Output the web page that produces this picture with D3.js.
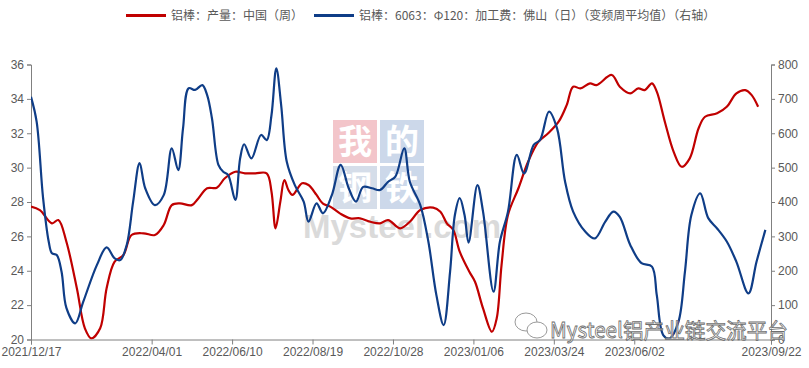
<!DOCTYPE html>
<html>
<head>
<meta charset="utf-8">
<title>铝棒产量与加工费</title>
<script type="text/javascript" src="https://cdnjs.cloudflare.com/ajax/libs/d3/7.8.5/d3.min.js"></script>
<style>
  body { margin: 0; background: #fff; }
  svg { display: block; }
</style>
</head>
<body>
<script type="text/javascript">

// data (x = week index from 2021/12/17)
var xTickIndex = [0, 15, 25, 35, 45, 55, 65, 75, 92]
var xTickLabels = ["2021/12/17", "2022/04/01", "2022/06/10", "2022/08/19", "2022/10/28",
                   "2023/01/06", "2023/03/24", "2023/06/02", "2023/09/22"]
var leftTicks = [20, 22, 24, 26, 28, 30, 32, 34, 36]
var rightTicks = [0, 100, 200, 300, 400, 500, 600, 700, 800]

var seriesNames = ["铝棒：产量：中国（周）",
                   "铝棒：6063：Φ120：加工费：佛山（日）（变频周平均值）（右轴）"]

// red: output, left axis
var redWeeks = [0, 1.1, 2.6, 3.4, 4.4, 5.7, 6.7, 7.5, 8.6, 9.4, 10.4, 11.5, 12.5, 14, 15.4, 16.5,
    17.5, 18.5, 20, 20.8, 21.9, 23.1, 24.1, 25.4, 26.6, 27.9, 29.3, 29.9, 30.4, 31, 31.5, 32,
    32.5, 33.7, 34.5, 35.5, 36.3, 37.2, 38.4, 39.7, 40.9, 42.2, 43.4, 44.4, 45.9, 47.1, 48.4,
    50, 50.9, 51.7, 52.5, 53.3, 54.5, 55.2, 56.2, 57.3, 57.9, 58.5, 59.3, 60.6, 61.8, 63.1,
    64.3, 65.6, 66.6, 67.4, 68.3, 69.5, 70.3, 72.2, 73.2, 74.5, 75.5, 76.3, 77.2, 77.8, 78.8,
    79.9, 80.9, 81.9, 83, 83.8, 85.3, 86.5, 87.7, 88.8, 89.6, 90.4]
var redValues = [27.73, 27.53, 26.76, 26.95, 25.69, 22.98, 20.65, 20.07, 20.65, 22.98, 24.53,
    24.92, 26.08, 26.18, 26.08, 26.66, 27.82, 27.92, 27.82, 28.21, 28.8, 28.83, 29.38, 29.76,
    29.67, 29.67, 29.67, 28.6, 26.47, 28.02, 29.28, 28.7, 28.41, 29.09, 28.99, 28.41, 27.9,
    27.73, 27.34, 27.05, 27.05, 26.85, 26.76, 26.95, 26.47, 26.85, 27.53, 27.67, 27.43, 26.76,
    26.37, 25.11, 23.94, 23.36, 21.81, 20.45, 21.23, 24.33, 27.24, 28.8, 30.34, 31.51, 32.0,
    32.67, 33.64, 34.71, 34.61, 34.9, 34.8, 35.39, 34.71, 34.32, 34.61, 34.51, 34.9, 34.42,
    32.67, 30.92, 30.05, 30.54, 32.29, 32.96, 33.16, 33.54, 34.32, 34.51, 34.22, 33.54]

// blue: processing fee, right axis
var blueWeeks = [0, 0.7, 1.5, 2.2, 2.6, 3.2, 3.8, 4.4, 5.5, 6.5, 8.2, 9.4, 10.4, 11.1, 11.9, 12.7,
    13.5, 14.2, 15.4, 16.5, 17.5, 18.3, 18.9, 19.6, 20.4, 21.3, 21.9, 22.5, 23.3, 23.9, 24.5,
    25.4, 26, 26.5, 27.4, 28.6, 29.3, 29.9, 30.5, 31.1, 31.8, 32.8, 33.9, 34.5, 35.5, 36.3,
    37.4, 38.5, 39.5, 40.4, 41.3, 42.4, 43.4, 44.4, 45.3, 46.4, 47.1, 48.4, 49.4, 50.4, 51.3,
    52.1, 52.7, 53.3, 53.9, 54.4, 55.5, 56.2, 57.5, 58.3, 59.3, 60.4, 61.3, 62.5, 63.3, 64.4,
    65.4, 66.4, 67.4, 68.9, 70.1, 71.4, 72.4, 73.2, 74.5, 75.9, 77.2, 77.8, 78.6, 79.4, 80.5,
    81.3, 82.1, 83.2, 84.2, 85.3, 86.5, 87.7, 89.2, 90.2, 91.3]
var blueValues = [706, 634, 412, 285, 251, 246, 197, 92, 47, 110, 217, 268, 236, 231, 275, 401,
    513, 440, 391, 420, 556, 493, 614, 731, 726, 740, 711, 643, 508, 488, 479, 406, 527, 568,
    527, 595, 580, 653, 789, 682, 517, 449, 401, 343, 396, 367, 420, 508, 440, 401, 444, 440,
    435, 459, 474, 556, 459, 391, 285, 129, 42, 197, 362, 411, 362, 282, 449, 372, 139, 285,
    372, 537, 483, 566, 581, 663, 614, 459, 372, 314, 294, 343, 372, 357, 275, 222, 212, 129,
    13, 3, 52, 197, 362, 425, 353, 323, 285, 226, 134, 226, 319]

var w = 809,
    h = 368

var margin = {top: 64.5, right: 38, bottom: 28.5, left: 31}

var red = "#c00000",
    blue = "#0f3d87",
    axisColor = "#808080",
    textColor = "#595959"

var svg = d3.select("body").append("svg")
    .attr("width", w)
    .attr("height", h)

// scales
var x = d3.scaleLinear()
    .domain([0, 92])
    .range([margin.left, w - margin.right])

var yLeft = d3.scaleLinear()
    .domain([20, 36])
    .range([h - margin.bottom, margin.top])

var yRight = d3.scaleLinear()
    .domain([0, 800])
    .range([h - margin.bottom, margin.top])

// watermark behind the lines
var logo = svg.append("g").attr("class", "watermark")
var logoCells = [
    {ch: "我", col: 0, row: 0, fill: "#f3c5ca"},
    {ch: "的", col: 1, row: 0, fill: "#ccd8ea"},
    {ch: "钢", col: 0, row: 1, fill: "#d5dde9"},
    {ch: "铁", col: 1, row: 1, fill: "#ccd8ea"}
]
logo.selectAll("rect")
    .data(logoCells)
    .enter()
    .append("rect")
    .attr("x", function(d){ return 333 + d.col * 47 })
    .attr("y", function(d){ return 120 + d.row * 46 })
    .attr("width", 44)
    .attr("height", 43)
    .style("fill", function(d){ return d.fill })
logo.selectAll("text")
    .data(logoCells)
    .enter()
    .append("text")
    .attr("x", function(d){ return 355 + d.col * 47 })
    .attr("y", function(d){ return 154 + d.row * 46 })
    .attr("text-anchor", "middle")
    .style("font-family", "'Noto Sans CJK SC'")
    .style("font-size", "34px")
    .style("font-weight", "bold")
    .style("fill", "#ffffff")
    .text(function(d){ return d.ch })

logo.append("text")
    .attr("x", 303)
    .attr("y", 238)
    .style("font-family", "'Liberation Sans', Arial, sans-serif")
    .style("font-size", "33px")
    .style("font-weight", "bold")
    .style("fill", "#d4d4d4")
    .style("opacity", 0.85)
    .text("Mysteel.com")

// axes
function styleAxis(g) {
    g.selectAll("path, line").style("stroke", axisColor)
    g.selectAll("text")
        .style("fill", textColor)
        .style("font-family", "'Liberation Sans', Arial, sans-serif")
        .style("font-size", "12px")
}

svg.append("g")
    .attr("transform", "translate(" + margin.left + ",0)")
    .call(d3.axisLeft(yLeft).tickValues(leftTicks).tickSizeOuter(0).tickSize(4).tickPadding(3))
    .call(styleAxis)

svg.append("g")
    .attr("transform", "translate(" + (w - margin.right) + ",0)")
    .call(d3.axisRight(yRight).tickValues(rightTicks).tickSizeOuter(0).tickSize(4).tickPadding(3))
    .call(styleAxis)

svg.append("g")
    .attr("transform", "translate(0," + (h - margin.bottom) + ")")
    .call(d3.axisBottom(x)
        .tickValues(xTickIndex)
        .tickFormat(function(d, i){ return xTickLabels[i] })
        .tickSizeOuter(0)
        .tickSize(5)
        .tickPadding(3))
    .call(styleAxis)

// clip lines to the plot area
svg.append("clipPath")
    .attr("id", "plot-clip")
    .append("rect")
    .attr("x", margin.left)
    .attr("y", margin.top - 4)
    .attr("width", w - margin.left - margin.right)
    .attr("height", h - margin.top - margin.bottom + 4)

var redLine = d3.line()
    .x(function(d, i){ return x(redWeeks[i]) })
    .y(function(d){ return yLeft(d) })
    .curve(d3.curveCatmullRom.alpha(0.5))

var blueLine = d3.line()
    .x(function(d, i){ return x(blueWeeks[i]) })
    .y(function(d){ return yRight(d) })
    .curve(d3.curveCatmullRom.alpha(0.5))

svg.append("path")
    .datum(redValues)
    .attr("clip-path", "url(#plot-clip)")
    .attr("d", redLine)
    .style("fill", "none")
    .style("stroke", red)
    .style("stroke-width", 2.2)

svg.append("path")
    .datum(blueValues)
    .attr("clip-path", "url(#plot-clip)")
    .attr("d", blueLine)
    .style("fill", "none")
    .style("stroke", blue)
    .style("stroke-width", 2.2)

// legend
var legendItems = [
    {name: seriesNames[0], color: red, x: 126},
    {name: seriesNames[1], color: blue, x: 314}
]
var legend = svg.selectAll(".legend")
    .data(legendItems)
    .enter()
    .append("g")
    .attr("class", "legend")
    .attr("transform", function(d){ return "translate(" + d.x + ",15.5)" })
legend.append("line")
    .attr("x1", 0)
    .attr("x2", 40)
    .style("stroke", function(d){ return d.color })
    .style("stroke-width", 3)
legend.append("text")
    .attr("x", 45)
    .attr("dy", "0.35em")
    .style("font-family", "'Noto Sans CJK SC', sans-serif")
    .style("font-size", "12px")
    .style("fill", textColor)
    .text(function(d){ return d.name })

// wechat mark bottom right
var mark = svg.append("g").attr("class", "wechat-mark")
mark.append("ellipse")
    .attr("cx", 526).attr("cy", 322).attr("rx", 11).attr("ry", 9)
    .style("fill", "#fff").style("stroke", "#9a9a9a").style("stroke-width", 1)
mark.append("ellipse")
    .attr("cx", 537).attr("cy", 330).attr("rx", 10).attr("ry", 8)
    .style("fill", "#fff").style("stroke", "#9a9a9a").style("stroke-width", 1)
mark.append("text")
    .attr("x", 550)
    .attr("y", 338)
    .attr("textLength", 238)
    .attr("lengthAdjust", "spacingAndGlyphs")
    .style("font-family", "'Noto Sans CJK SC', sans-serif")
    .style("font-size", "21px")
    .style("fill", "#ffffff")
    .style("fill-opacity", 0.6)
    .style("stroke", "#6e6e6e")
    .style("stroke-width", 0.8)
    .text("Mysteel铝产业链交流平台")

</script>
</body>
</html>
